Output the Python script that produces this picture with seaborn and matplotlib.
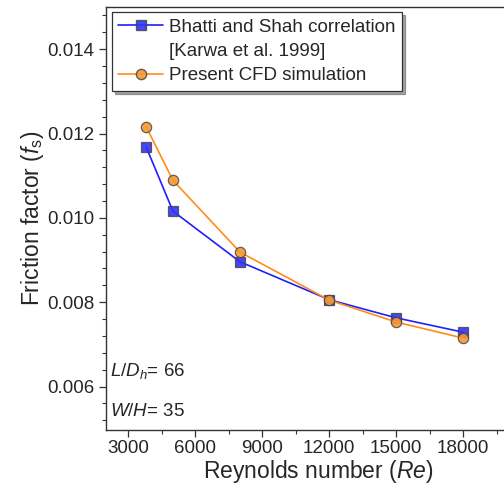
import matplotlib
matplotlib.use("Agg")
import matplotlib.pyplot as plt
import seaborn as sns
import pandas as pd
from matplotlib.lines import Line2D
from matplotlib.ticker import MultipleLocator

# Data
re_values = [3800, 5000, 8000, 12000, 15000, 18000]
bhatti_shah = [0.01168, 0.01016, 0.00896, 0.00806, 0.00763, 0.00729]
cfd = [0.01216, 0.01089, 0.00919, 0.00805, 0.00753, 0.00715]
series_labels = ["Bhatti and Shah correlation", "[Karwa et al. 1999]", "Present CFD simulation"]
x_ticks = [3000, 6000, 9000, 12000, 15000, 18000]
y_ticks = [0.006, 0.008, 0.010, 0.012, 0.014]

sns.set_style("ticks")
plt.rcParams["font.family"] = ["Liberation Sans", "DejaVu Sans"]
plt.rcParams["mathtext.fontset"] = "custom"
plt.rcParams["mathtext.rm"] = "Liberation Sans"
plt.rcParams["mathtext.it"] = "Liberation Sans:italic"

fig = plt.figure(figsize=(5.04, 4.96), dpi=100)
ax = fig.add_axes([106 / 504, 66 / 496, 424 / 504, 423 / 496])

df_b = pd.DataFrame({"Re": re_values, "f": bhatti_shah})
df_c = pd.DataFrame({"Re": re_values, "f": cfd})

blue_face = (0.2, 0.2, 0.95, 0.9)
orange_face = (0.96, 0.6, 0.2, 0.9)
edge = (0.25, 0.25, 0.25, 0.8)

sns.lineplot(data=df_b, x="Re", y="f", ax=ax, color="#1f1fff", lw=1.2,
             marker="s", markersize=6.8, markerfacecolor=blue_face,
             markeredgecolor=edge, markeredgewidth=0.9)
sns.lineplot(data=df_c, x="Re", y="f", ax=ax, color="#ff8c1a", lw=1.2,
             marker="o", markersize=7.4, markerfacecolor=orange_face,
             markeredgecolor=edge, markeredgewidth=0.9)

ax.set_xlim(2000, 21000)
ax.set_ylim(0.00497, 0.015)
ax.set_xticks(x_ticks)
ax.set_yticks(y_ticks)
ax.set_yticklabels([f"{v:.3f}" for v in y_ticks])
ax.xaxis.set_minor_locator(MultipleLocator(1500))
ax.yaxis.set_minor_locator(MultipleLocator(0.0004))
ax.tick_params(axis="x", which="major", pad=2)
ax.tick_params(axis="both", which="major", direction="out", length=5, width=0.9,
               labelsize=13.5, color="#333333")
ax.tick_params(axis="both", which="minor", direction="out", length=3, width=0.8,
               color="#333333")
for sp in ax.spines.values():
    sp.set_color("#333333")
    sp.set_linewidth(1.0)

ax.set_xlabel("Reynolds number ($Re$)", fontsize=16.5, labelpad=1)
ax.set_ylabel("Friction factor ($f_\\mathrm{s}$)", fontsize=16.5, labelpad=1)

ax.text(2200, 0.00637, "$L/D_h$= 66", fontsize=13.5, va="center", ha="left")
ax.text(2200, 0.00540, "$W/H$= 35", fontsize=13.5, va="center", ha="left")

handles = [
    Line2D([], [], color="#1f1fff", lw=1.2, marker="s", markersize=6.8,
           markerfacecolor=blue_face, markeredgecolor=edge),
    Line2D([], [], color="none", lw=0),
    Line2D([], [], color="#ff8c1a", lw=1.2, marker="o", markersize=7.4,
           markerfacecolor=orange_face, markeredgecolor=edge),
]
leg = ax.legend(handles, series_labels, loc="upper left", bbox_to_anchor=(0.014, 0.988),
                borderaxespad=0, fontsize=13.5, frameon=True, fancybox=False,
                shadow=True, framealpha=1, edgecolor="#333333",
                handlelength=2.4, handletextpad=0.3, labelspacing=0.38,
                borderpad=0.35)
leg.get_frame().set_linewidth(0.9)

fig.savefig("out.png", dpi=100)
